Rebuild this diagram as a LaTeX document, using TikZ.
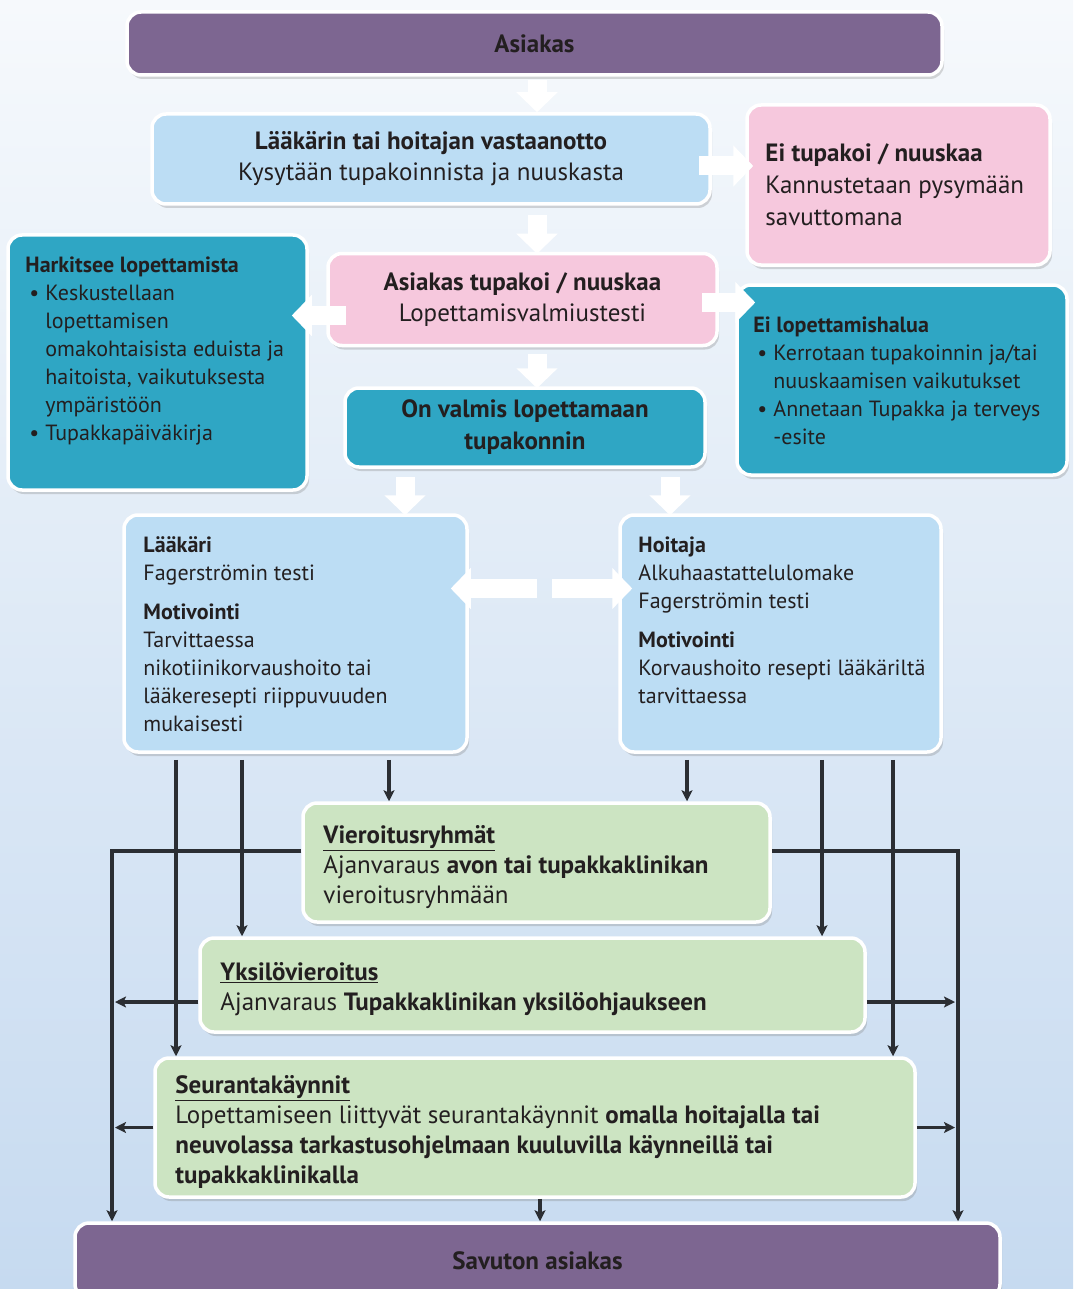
\documentclass[tikz,border=0pt]{standalone}
\usepackage{fontspec}
\setmainfont{PT Sans}
\usetikzlibrary{arrows.meta,shadows}
\definecolor{ink}{HTML}{231F20}
\definecolor{linegray}{HTML}{2B2E33}
\definecolor{boxpurple}{HTML}{7D6691}
\definecolor{boxblue}{HTML}{BCDDF4}
\definecolor{boxpink}{HTML}{F6C8DD}
\definecolor{boxteal}{HTML}{2FA6C4}
\definecolor{boxgreen}{HTML}{CCE4C2}
\definecolor{bgtop}{HTML}{F6F9FC}
\definecolor{bgbot}{HTML}{C6DAF0}
\newcommand\smtxt{\fontsize{22}{28}\selectfont}
\newcommand\bigtxt{\fontsize{25}{31}\selectfont}
\newcommand\grntxt{\fontsize{25}{30}\selectfont}
\newcommand\itm{\makebox[20pt][l]{\hspace{4pt}\textbullet}}
\newcommand\ind{\hspace*{20pt}}
\tikzset{
    box/.style={rectangle, rounded corners=14pt, draw=white, line width=3.5pt, inner sep=0pt, text=ink,
        drop shadow={shadow xshift=2pt, shadow yshift=-4pt, opacity=0.3}},
    txt/.style={inner sep=0pt, align=left, text=ink, anchor=north west},
    wide/.style={white, line width=19pt, -{Triangle[length=20pt,width=40pt]}},
    link/.style={linegray, line width=3.6pt, -{Stealth[length=11pt,width=11pt,inset=2.5pt]}},
}

\begin{document}
\begin{tikzpicture}[x=1pt,y=-1pt]
		\useasboundingbox (0,0) rectangle (1073,1289);
		\clip (0,0) rectangle (1073,1289);
		\shade[top color=bgtop,bottom color=bgbot] (0,0) rectangle (1073,1289);
		\coordinate (mid) at (537,0);
		\coordinate (lft) at (112,0);
		\coordinate (rgt) at (958,0);

		\node[box,fill=boxpurple,minimum width=815pt,minimum height=63pt,font=\bigtxt\bfseries] (asiakas) at (534.5,43.5) {Asiakas};
		\node[box,fill=boxblue,minimum width=558pt,minimum height=90pt,align=center,font=\bigtxt] (vastaanotto) at (431,159) {\textbf{Lääkärin tai hoitajan vastaanotto}\\Kysytään tupakoinnista ja nuuskasta};
		\node[box,fill=boxpink,minimum width=303pt,minimum height=160pt] (eitupakoi) at (898.5,185) {};
		\node[txt,font=\fontsize{25}{32}\selectfont] (eitupakoiT) at ([shift={(20,40)}]eitupakoi.north west) {\textbf{Ei tupakoi / nuuskaa}\\Kannustetaan pysymään\\savuttomana};
		\node[box,fill=boxteal,minimum width=299pt,minimum height=255pt] (harkitsee) at (157.5,362.5) {};
		\node[txt,font=\smtxt] (harkitseeT) at ([shift={(19,23)}]harkitsee.north west) {\textbf{Harkitsee lopettamista}\\\itm Keskustellaan\\\ind lopettamisen\\\ind omakohtaisista eduista ja\\\ind haitoista, vaikutuksesta\\\ind ympäristöön\\\itm Tupakkapäiväkirja};
		\node[box,fill=boxpink,minimum width=389pt,minimum height=92pt,align=center,font=\bigtxt] (tupakoi) at (522.5,299.5) {\textbf{Asiakas tupakoi / nuuskaa}\\Lopettamisvalmiustesti};
		\node[box,fill=boxteal,minimum width=330pt,minimum height=190pt] (eilopettamis) at (902,380) {};
		\node[txt,font=\smtxt] (eilopettamisT) at ([shift={(18,33)}]eilopettamis.north west) {\textbf{Ei lopettamishalua}\\\itm Kerrotaan tupakoinnin ja/tai\\\ind nuuskaamisen vaikutukset\\\itm Annetaan Tupakka ja terveys\\\ind -esite};
		\node[box,fill=boxteal,minimum width=360pt,minimum height=79pt,align=center,font=\fontsize{25}{32}\selectfont\bfseries] (valmis) at (525,427.5) {On valmis lopettamaan\\tupakonnin};
		\node[box,fill=boxblue,minimum width=343pt,minimum height=237pt] (laakari) at (295.5,633.5) {};
		\node[txt,font=\smtxt] (laakariT) at ([shift={(21,23)}]laakari.north west) {\textbf{Lääkäri}\\Fagerströmin testi\\[11pt]\textbf{Motivointi}\\Tarvittaessa\\nikotiinikorvaushoito tai\\lääkeresepti riippuvuuden\\mukaisesti};
		\node[box,fill=boxblue,minimum width=321pt,minimum height=237pt] (hoitaja) at (780.5,633.5) {};
		\node[txt,font=\smtxt] (hoitajaT) at ([shift={(20,23)}]hoitaja.north west) {\textbf{Hoitaja}\\Alkuhaastattelulomake\\Fagerströmin testi\\[11pt]\textbf{Motivointi}\\Korvaushoito resepti lääkäriltä\\tarvittaessa};
		\node[box,fill=boxgreen,minimum width=467pt,minimum height=119pt] (vieroitus) at (536.5,862.5) {};
		\node[txt,font=\grntxt] (vieroitusT) at ([shift={(22,24)}]vieroitus.north west) {\textbf{\underline{Vieroitusryhmät}}\\Ajanvaraus \textbf{avon tai tupakkaklinikan}\\vieroitusryhmään};
		\node[box,fill=boxgreen,minimum width=665pt,minimum height=94pt] (yksilo) at (532.5,985) {};
		\node[txt,font=\grntxt] (yksiloT) at ([shift={(22,26)}]yksilo.north west) {\textbf{\underline{Yksilövieroitus}}\\Ajanvaraus \textbf{Tupakkaklinikan yksilöohjaukseen}};
		\node[box,fill=boxgreen,minimum width=760pt,minimum height=139pt] (seuranta) at (535,1127.5) {};
		\node[txt,font=\grntxt] (seurantaT) at ([shift={(22,19)}]seuranta.north west) {\textbf{\underline{Seurantakäynnit}}\\Lopettamiseen liittyvät seurantakäynnit \textbf{omalla hoitajalla tai}\\\textbf{neuvolassa tarkastusohjelmaan kuuluvilla käynneillä tai}\\\textbf{tupakkaklinikalla}};
		\node[box,fill=boxpurple,minimum width=925pt,minimum height=75pt,font=\bigtxt\bfseries] (savuton) at (537.5,1260.5) {Savuton asiakas};

		\draw[wide] ([yshift=-3pt]asiakas.south -| mid) -- (vastaanotto.north -| mid);
		\draw[wide] ([xshift=-13pt,yshift=-7pt]vastaanotto.east) -- ([xshift=8pt,yshift=-7pt]vastaanotto.east -| eitupakoi.west);
		\draw[wide] ([yshift=-9pt]vastaanotto.south -| mid) -- ([yshift=-2pt]tupakoi.north -| mid);
		\draw[wide] ([xshift=20pt,yshift=-16pt]tupakoi.west) -- ([xshift=-17pt,yshift=-16pt]tupakoi.west -| harkitsee.east);
		\draw[wide] ([xshift=-17pt,yshift=-3pt]tupakoi.east) -- ([xshift=20pt,yshift=-3pt]tupakoi.east -| eilopettamis.west);
		\draw[wide] ([yshift=-7pt]tupakoi.south -| mid) -- ([yshift=-2pt]valmis.north -| mid);
		\draw[wide] ([xshift=-120pt,yshift=-8pt]valmis.south) -- ([xshift=-120pt,yshift=-2pt]valmis.south |- laakari.north);
		\draw[wide] ([xshift=145pt,yshift=-8pt]valmis.south) -- ([xshift=145pt,yshift=-2pt]valmis.south |- hoitaja.north);
		\draw[wide] ([yshift=45pt]laakari.east -| mid) -- ([xshift=-18pt,yshift=45pt]laakari.east);
		\draw[wide] ([xshift=15pt,yshift=45pt]laakari.east -| mid) -- ([xshift=14pt,yshift=45pt]hoitaja.west);

		\draw[link] ([xshift=93.5pt,yshift=-6pt]laakari.south) -- ([xshift=93.5pt]laakari.south |- vieroitus.north);
		\draw[link] ([xshift=-53.5pt,yshift=-6pt]laakari.south) -- ([xshift=-53.5pt]laakari.south |- yksilo.north);
		\draw[link] ([xshift=-119.5pt,yshift=-6pt]laakari.south) -- ([xshift=-119.5pt]laakari.south |- seuranta.north);
		\draw[link] ([xshift=-93.5pt,yshift=-6pt]hoitaja.south) -- ([xshift=-93.5pt]hoitaja.south |- vieroitus.north);
		\draw[link] ([xshift=41.5pt,yshift=-6pt]hoitaja.south) -- ([xshift=41.5pt]hoitaja.south |- yksilo.north);
		\draw[link] ([xshift=112.5pt,yshift=-6pt]hoitaja.south) -- ([xshift=112.5pt]hoitaja.south |- seuranta.north);
		\draw[link] ([yshift=11.5pt]vieroitus.west) -| (lft |- savuton.north);
		\draw[link] ([yshift=11.5pt]vieroitus.east) -| (rgt |- savuton.north);
		\draw[link] ([yshift=-17pt]yksilo.west) -- ([xshift=3pt,yshift=-17pt]yksilo.west -| lft);
		\draw[link] ([yshift=-17pt]yksilo.east) -- ([xshift=-3pt,yshift=-17pt]yksilo.east -| rgt);
		\draw[link] (seuranta.west) -- ([xshift=3pt]seuranta.west -| lft);
		\draw[link] (seuranta.east) -- ([xshift=-3pt]seuranta.east -| rgt);
		\draw[link] ([xshift=5pt]seuranta.south) -- ([xshift=5pt]seuranta.south |- savuton.north);
	\end{tikzpicture}
\end{document}
